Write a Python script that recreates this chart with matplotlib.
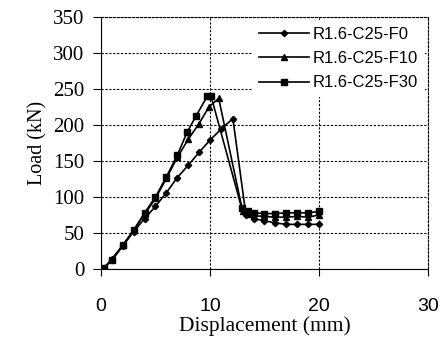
import matplotlib.pyplot as plt

# data
disp_f0 = [0.3, 1, 2, 3, 4, 5, 6, 7, 8, 9, 10, 11, 12.1, 13.3, 14, 15, 16, 17, 18, 19, 20]
load_f0 = [2, 12, 32, 52, 70, 87, 106, 127, 144, 162, 179, 194, 209, 75, 70, 67, 64, 62, 62, 62, 62]
disp_f10 = [0.3, 1, 2, 3, 4, 5, 6, 7, 8, 9, 9.9, 10.8, 13, 13.5, 14, 15, 16, 17, 18, 19, 20]
load_f10 = [2, 14, 33, 54, 76, 98, 126, 155, 180, 202, 225, 237, 80, 76, 74, 73, 72, 72, 73, 72, 75]
disp_f30 = [0.3, 1, 2, 3, 4, 5, 6, 7, 7.9, 8.7, 9.75, 10.1, 12.9, 13.5, 14, 15, 16, 17, 18, 19, 20]
load_f30 = [2, 13, 33, 54, 78, 100, 128, 158, 190, 212, 240, 240, 85, 80, 78, 77, 77, 78, 78, 78, 80]
labels = ['R1.6-C25-F0', 'R1.6-C25-F10', 'R1.6-C25-F30']

serif = ['Liberation Serif', 'DejaVu Serif']
sans = ['Liberation Sans', 'DejaVu Sans']

fig = plt.figure(figsize=(4.4, 3.4), dpi=100)
ax = fig.add_axes([0.2295, 0.2088, 0.7432, 0.7412])

ax.plot(disp_f0, load_f0, color='black', lw=1.2, marker='D', ms=3.2, label=labels[0])
ax.plot(disp_f10, load_f10, color='black', lw=1.2, marker='^', ms=5, label=labels[1])
ax.plot(disp_f30, load_f30, color='black', lw=1.2, marker='s', ms=5, label=labels[2])

ax.set_xlim(0, 30)
ax.set_ylim(0, 350)
ax.set_xticks([0, 10, 20, 30])
ax.set_yticks(range(0, 351, 50))

ax.grid(True, color='black', lw=0.8, linestyle=(0, (2, 1.5)))
ax.spines['top'].set_linestyle((0, (2, 1.5)))
ax.spines['right'].set_linestyle((0, (2, 1.5)))
ax.spines['top'].set_linewidth(0.8)
ax.spines['right'].set_linewidth(0.8)

ax.tick_params(axis='x', direction='out', length=5, pad=16)
ax.tick_params(axis='y', direction='out', length=6, pad=6)
for t in ax.get_xticklabels():
    t.set_family(sans)
    t.set_fontsize(14)
for t in ax.get_yticklabels():
    t.set_family(serif)
    t.set_fontsize(15)

ax.set_xlabel('Displacement (mm)', family=serif, fontsize=15.5, labelpad=1)
ax.set_ylabel('Load (kN)', family=serif, fontsize=14.5, labelpad=4)

leg = ax.legend(loc='upper right', bbox_to_anchor=(1.0, 1.0), borderaxespad=0.2,
                prop={'family': sans, 'size': 12}, handlelength=3.0,
                handletextpad=0.2, labelspacing=0.55, fancybox=False,
                framealpha=1, facecolor='white', edgecolor='none')

fig.savefig('out.png', dpi=100)
